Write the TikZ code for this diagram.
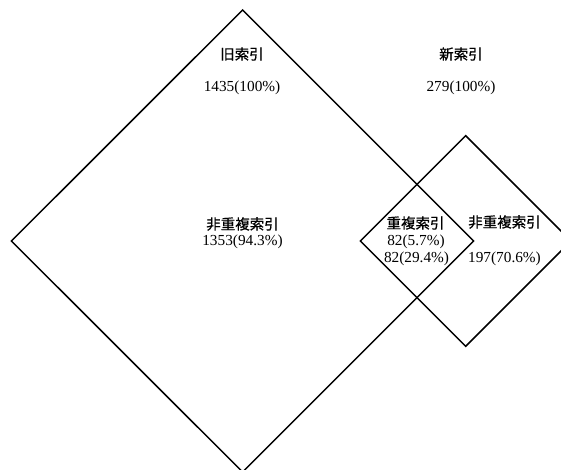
\documentclass[tikz,border=0pt]{standalone}
\usepackage{fontspec}
\setmainfont{Liberation Serif}
\newfontfamily\cjk[FakeBold=0.5]{Noto Sans CJK JP}
\begin{document}
\begin{tikzpicture}[x=1pt,y=-1pt,
  diam/.style={draw=black,line width=1.5pt,line join=miter},
  lbl/.style={inner sep=0pt,font=\fontsize{14.5}{17}\selectfont},
  num/.style={inner sep=0pt,font=\fontsize{15.3}{17}\selectfont}]
\useasboundingbox (0,0) rectangle (561,470);
\clip (0,0) rectangle (561,470);
% old index diamond
\coordinate (oT) at (242.6,10);
\coordinate (oR) at (473.6,241);
\coordinate (oB) at (242.6,472);
\coordinate (oL) at (11.4,241);
\draw[diam] (oT) -- (oR) -- (oB) -- (oL) -- cycle;
% new index diamond
\coordinate (nT) at (465.7,135.7);
\coordinate (nR) at (571,241);
\coordinate (nB) at (465.7,346.3);
\coordinate (nL) at (360.4,241);
\draw[diam] (nT) -- (nR) -- (nB) -- (nL) -- cycle;
% labels
\node[lbl] (oldname) at (242,54) {\cjk 旧索引};
\node[num] (oldnum) at (242,88) {1435(100\%)};
\node[lbl] (newname) at (461,54) {\cjk 新索引};
\node[num] (newnum) at (461,88) {279(100\%)};
\node[lbl] (ondname) at (242.5,224) {\cjk 非重複索引};
\node[num] (ondnum) at (242.5,242) {1353(94.3\%)};
\node[lbl] (dupname) at (415.5,223) {\cjk 重複索引};
\node[num] (dupnum1) at (416,242) {82(5.7\%)};
\node[num] (dupnum2) at (416.5,259) {82(29.4\%)};
\node[lbl] (nndname) at (504.5,222) {\cjk 非重複索引};
\node[num] (nndnum) at (504.5,259) {197(70.6\%)};
\end{tikzpicture}
\end{document}
